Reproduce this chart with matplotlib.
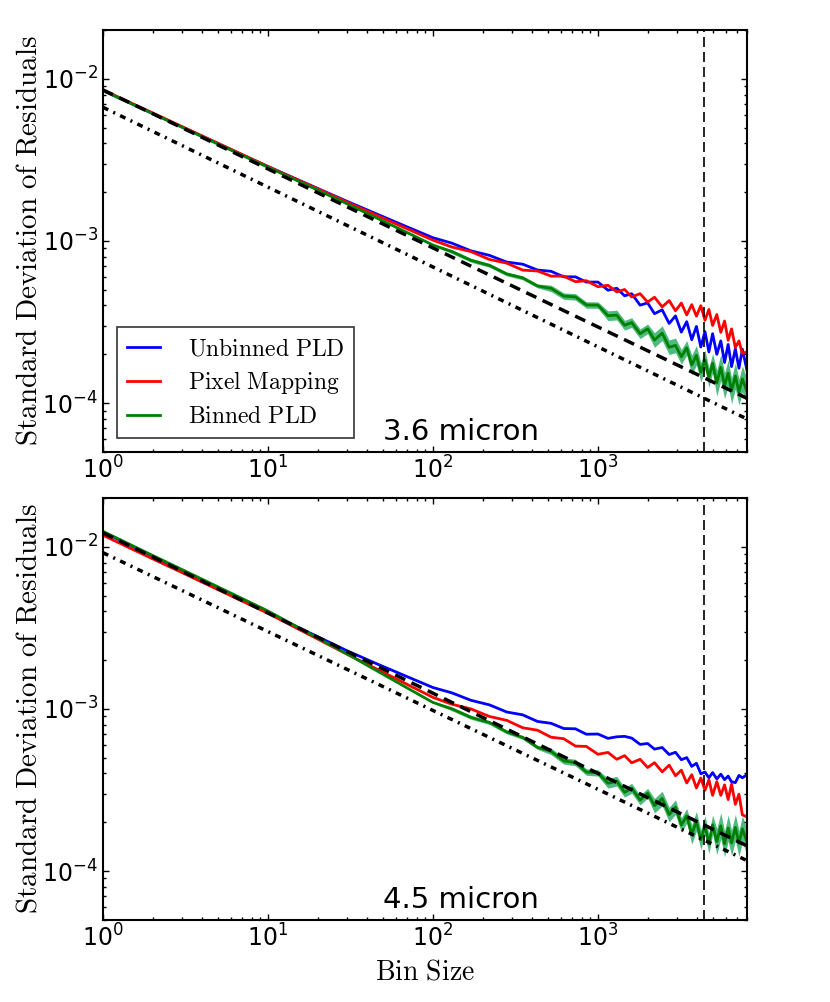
import numpy as np
import matplotlib.pyplot as plt

# bin sizes used for the rms-vs-bin curves
bins = [1, 2, 3, 5, 7, 10, 15, 20, 30, 45, 65, 100, 130, 170, 220, 280, 350, 430,
        520, 620, 730, 850, 1000, 1150, 1300, 1450, 1600, 1800, 2000, 2200, 2450,
        2700, 2950, 3200, 3450, 3700, 3950, 4200, 4450, 4700, 4950, 5250, 5550,
        5850, 6150, 6450, 6800, 7150, 7500, 8000]

# 3.6 micron
top_unbinned = [8.47e-3, 6.12e-3, 5.06e-3, 3.98e-3, 3.40e-3, 2.88e-3, 2.40e-3, 2.11e-3,
                1.76e-3, 1.476e-3, 1.259e-3, 1.047e-3,
                9.70e-4, 8.69e-4, 8.15e-4, 7.41e-4, 7.19e-4, 6.62e-4, 6.50e-4, 6.01e-4,
                6.01e-4, 5.58e-4, 5.58e-4, 4.97e-4, 5.11e-4, 4.59e-4, 4.73e-4, 4.02e-4,
                4.15e-4, 3.56e-4, 3.76e-4, 3.10e-4, 3.45e-4, 2.74e-4, 3.18e-4, 2.46e-4,
                2.97e-4, 2.22e-4, 2.76e-4, 2.07e-4, 2.68e-4, 2.00e-4, 2.42e-4, 1.78e-4,
                2.30e-4, 1.68e-4, 2.16e-4, 1.64e-4, 2.15e-4, 1.59e-4]
top_pixmap = [8.55e-3, 6.17e-3, 5.09e-3, 4.00e-3, 3.41e-3, 2.88e-3, 2.39e-3, 2.10e-3,
              1.74e-3, 1.449e-3, 1.227e-3, 1.012e-3,
              9.18e-4, 8.60e-4, 7.69e-4, 7.30e-4, 6.61e-4, 6.53e-4, 6.07e-4, 6.07e-4,
              5.61e-4, 5.69e-4, 5.22e-4, 5.33e-4, 4.85e-4, 5.02e-4, 4.52e-4, 4.73e-4,
              4.20e-4, 4.50e-4, 3.92e-4, 4.29e-4, 3.71e-4, 4.14e-4, 3.50e-4, 4.05e-4,
              3.44e-4, 3.99e-4, 3.24e-4, 3.78e-4, 3.01e-4, 3.52e-4, 2.73e-4, 3.21e-4,
              2.44e-4, 2.87e-4, 2.20e-4, 2.42e-4, 2.02e-4, 2.07e-4]
top_binned = [8.47e-3, 6.11e-3, 5.04e-3, 3.95e-3, 3.37e-3, 2.85e-3, 2.36e-3, 2.06e-3,
              1.70e-3, 1.396e-3, 1.167e-3, 9.44e-4,
              8.61e-4, 7.60e-4, 7.07e-4, 6.26e-4, 5.92e-4, 5.28e-4, 5.10e-4, 4.57e-4,
              4.52e-4, 4.03e-4, 4.02e-4, 3.46e-4, 3.49e-4, 3.02e-4, 3.14e-4, 2.68e-4,
              2.87e-4, 2.45e-4, 2.70e-4, 2.21e-4, 2.27e-4, 1.93e-4, 2.19e-4, 1.72e-4,
              1.97e-4, 1.55e-4, 1.85e-4, 1.44e-4, 1.76e-4, 1.33e-4, 1.66e-4, 1.28e-4,
              1.53e-4, 1.19e-4, 1.47e-4, 1.17e-4, 1.41e-4, 1.18e-4]

# 4.5 micron
bot_unbinned = [1.236e-2, 8.75e-3, 7.14e-3, 5.55e-3, 4.69e-3, 3.93e-3, 3.21e-3, 2.79e-3,
                2.29e-3, 1.91e-3, 1.63e-3, 1.355e-3,
                1.257e-3, 1.130e-3, 1.059e-3, 9.57e-4, 9.19e-4, 8.37e-4, 8.15e-4, 7.57e-4,
                7.54e-4, 6.98e-4, 7.00e-4, 6.58e-4, 6.73e-4, 6.77e-4, 6.61e-4, 6.04e-4,
                6.12e-4, 5.65e-4, 5.78e-4, 5.23e-4, 5.40e-4, 4.86e-4, 5.01e-4, 4.42e-4,
                4.62e-4, 3.98e-4, 4.08e-4, 3.76e-4, 4.05e-4, 3.70e-4, 3.96e-4, 3.66e-4,
                3.85e-4, 3.55e-4, 3.51e-4, 3.89e-4, 3.76e-4, 3.93e-4]
bot_pixmap = [1.178e-2, 8.43e-3, 6.95e-3, 5.43e-3, 4.62e-3, 3.89e-3, 3.14e-3, 2.70e-3,
              2.18e-3, 1.774e-3, 1.469e-3, 1.178e-3,
              1.069e-3, 1.000e-3, 8.98e-4, 8.50e-4, 7.65e-4, 7.39e-4, 6.69e-4, 6.55e-4,
              5.90e-4, 5.87e-4, 5.25e-4, 5.39e-4, 4.89e-4, 5.15e-4, 4.65e-4, 4.89e-4,
              4.35e-4, 4.66e-4, 4.09e-4, 4.50e-4, 3.87e-4, 4.19e-4, 3.49e-4, 3.93e-4,
              3.25e-4, 3.75e-4, 3.15e-4, 3.65e-4, 2.93e-4, 3.56e-4, 2.93e-4, 3.40e-4,
              2.76e-4, 3.43e-4, 2.58e-4, 2.98e-4, 2.22e-4, 2.16e-4]
bot_binned = [1.245e-2, 8.85e-3, 7.26e-3, 5.65e-3, 4.79e-3, 4.02e-3, 3.21e-3, 2.74e-3,
              2.19e-3, 1.734e-3, 1.403e-3, 1.096e-3,
              1.002e-3, 8.87e-4, 8.24e-4, 7.21e-4, 6.67e-4, 5.79e-4, 5.47e-4, 4.78e-4,
              4.67e-4, 4.08e-4, 4.03e-4, 3.48e-4, 3.58e-4, 3.06e-4, 3.24e-4, 2.74e-4,
              3.02e-4, 2.53e-4, 2.80e-4, 2.23e-4, 2.48e-4, 1.92e-4, 2.19e-4, 1.68e-4,
              2.03e-4, 1.56e-4, 1.91e-4, 1.47e-4, 1.93e-4, 1.52e-4, 1.90e-4, 1.47e-4,
              1.84e-4, 1.49e-4, 1.86e-4, 1.48e-4, 1.82e-4, 1.51e-4]

# half width (dex) of the shaded uncertainty around the binned PLD curve
band_dex = [0.002] * 6 + [0.005] * 6 + [0.012] * 6 + [0.02] * 5 + [0.03] * 6 + \
    [0.045] * 6 + [0.06] * 6 + [0.08] * 9

# expected white-noise lines, end points
top_dash_x, top_dash_y = [1, 8000], [8.55e-3, 1.07e-4]
top_dot_x, top_dot_y = [1, 8000], [6.68e-3, 7.98e-5]
bot_dash_x, bot_dash_y = [1, 8000], [1.22e-2, 1.43e-4]
bot_dot_x, bot_dot_y = [1, 8000], [9.2e-3, 1.16e-4]

vline_x = 4400

fig = plt.figure(figsize=(8.3, 10.02), dpi=100)
ax1 = fig.add_axes([0.124, 0.549, 0.776, 0.421])
ax2 = fig.add_axes([0.124, 0.082, 0.776, 0.421])

panels = [
    (ax1, top_unbinned, top_pixmap, top_binned, top_dash_x, top_dash_y, top_dot_x, top_dot_y, "3.6 micron"),
    (ax2, bot_unbinned, bot_pixmap, bot_binned, bot_dash_x, bot_dash_y, bot_dot_x, bot_dot_y, "4.5 micron"),
]

for ax, blue, red, green, dx, dy, ox, oy, name in panels:
    g = np.array(green)
    w = 10 ** np.array(band_dex)
    ax.fill_between(bins, g / w, g * w, color="#3cb371", lw=0, alpha=0.9)
    ax.plot(bins, blue, color="b", lw=2, label=r"$\mathrm{Unbinned\ PLD}$")
    ax.plot(bins, red, color="r", lw=2, label=r"$\mathrm{Pixel\ Mapping}$")
    ax.plot(bins, green, color="g", lw=2, label=r"$\mathrm{Binned\ PLD}$")
    ax.plot(dx, dy, color="k", lw=2.5, linestyle=(0, (3.2, 2.0)))
    ax.plot(ox, oy, color="k", lw=2.5, linestyle=(0, (1.7, 1.6, 0.6, 1.6)))
    ax.axvline(vline_x, color="k", lw=1.2, linestyle=(0, (6, 3)))
    ax.set_xscale("log")
    ax.set_yscale("log")
    ax.set_xlim(1, 8000)
    ax.set_ylim(5e-5, 2e-2)
    ax.tick_params(which="both", direction="in", top=True, right=True, labelsize=17)
    ax.tick_params(which="major", length=4.5, width=1)
    ax.tick_params(which="minor", length=2, width=1)
    for s in ax.spines.values():
        s.set_linewidth(1.5)
    ax.text(0.556, 0.028, name, transform=ax.transAxes, ha="center", va="baseline", fontsize=21)
    ax.set_ylabel(r"$\mathrm{Standard\ Deviation\ of\ Residuals}$", fontsize=21,
                  math_fontfamily="cm", labelpad=0)

ax2.set_xlabel(r"$\mathrm{Bin\ Size}$", fontsize=20, math_fontfamily="cm", labelpad=4)

leg = ax1.legend(loc="lower left", fontsize=17, fancybox=False, handlelength=1.4,
                 handletextpad=1.2, borderaxespad=0.6, labelspacing=0.35)
leg.get_frame().set_edgecolor("k")
leg.get_frame().set_linewidth(1.2)
for t in leg.get_texts():
    t.set_math_fontfamily("cm")

fig.savefig("out.png", dpi=100)
